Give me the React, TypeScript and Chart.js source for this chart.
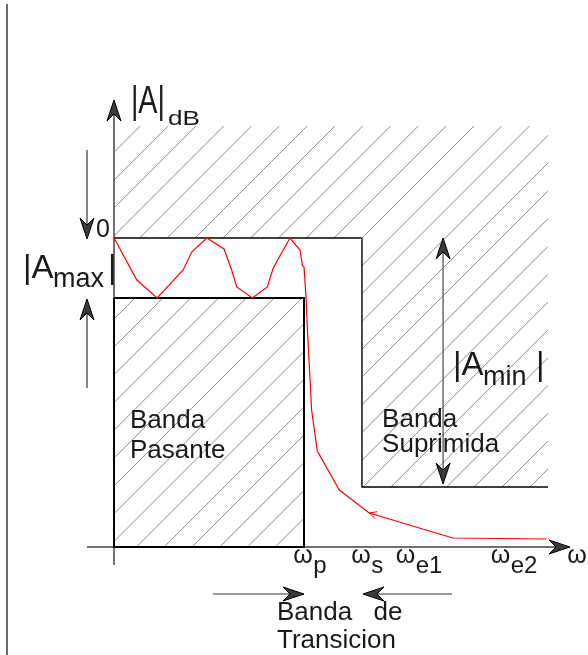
import { useEffect, useRef } from 'react';
import { Chart, registerables } from 'chart.js';
Chart.register(...registerables);

const W = 588;
const H = 655;

// Frequency axis (normalised so that ωp = 1)
const OMEGA_P = 1.0;
const OMEGA_S = 1.305;
const OMEGA_STOP_END = 2.284;
const X_MIN = 0;
const X_MAX = 2.4;
const X_AXIS_START = -0.142;

// Gain axis (dB)
const A_ZERO = 0;
const A_MAX = -3;
const A_MIN = -12.45;
const MASK_TOP = 5.6;
const Y_MIN = -15.45;
const Y_MAX = 6.9;
const Y_AXIS_BOTTOM = -16.35;

// Filter response (red curve)
const responseX = [0, 0.12, 0.227, 0.364, 0.409, 0.488, 0.579, 0.619, 0.646, 0.728, 0.807, 0.838, 0.926, 0.979, 0.992, 1.0, 1.011, 1.018, 1.032, 1.04, 1.07, 1.186, 1.343, 1.783, 2.277];
const responseY = [0, -2.1, -3.0, -1.6, -0.7, 0, -0.55, -1.6, -2.45, -3.0, -2.45, -1.5, 0, -0.6, -1.4, -1.45, -3.0, -4.6, -7.1, -8.6, -10.65, -12.6, -13.75, -15.0, -15.05];

// Frequency labels (ω + subscript) and their positions
const freqSubs = ['p', 's', 'e1', 'e2', ''];
const freqPos = [1.0, 1.305, 1.539, 2.039, 2.442];

// Annotation arrows
const LEFT_ARROW_X = -0.142;
const LEFT_DOWN_TAIL = 4.4;
const LEFT_UP_TAIL = -7.5;
const AMIN_ARROW_X = 1.732;
const TRANS_ARROW_Y = -17.8;
const TRANS_LEFT_TAIL = 0.521;
const TRANS_RIGHT_TAIL = 1.779;

const FONT = '"Liberation Sans", Arial, sans-serif';
const HATCH_STEP = 27.8;
const HATCH_PHASE = 488.7;

type Pt = [number, number];

function hatch(ctx: CanvasRenderingContext2D, pts: Pt[]) {
  ctx.save();
  ctx.beginPath();
  pts.forEach(([px, py], i) => (i ? ctx.lineTo(px, py) : ctx.moveTo(px, py)));
  ctx.closePath();
  ctx.clip();
  const xs = pts.map((p) => p[0]);
  const ys = pts.map((p) => p[1]);
  const minX = Math.min(...xs), maxX = Math.max(...xs);
  const minY = Math.min(...ys), maxY = Math.max(...ys);
  const cMin = minX + minY, cMax = maxX + maxY;
  let c = HATCH_PHASE + Math.ceil((cMin - HATCH_PHASE) / HATCH_STEP) * HATCH_STEP;
  ctx.strokeStyle = '#8a8a8a';
  ctx.lineWidth = 1;
  ctx.beginPath();
  for (; c <= cMax + HATCH_STEP; c += HATCH_STEP) {
    ctx.moveTo(c - maxY, maxY);
    ctx.lineTo(c - minY, minY);
  }
  ctx.stroke();
  ctx.restore();
}

function arrowHead(ctx: CanvasRenderingContext2D, tx: number, ty: number, dx: number, dy: number) {
  const len = Math.hypot(dx, dy);
  const ux = dx / len, uy = dy / len;
  const px = -uy, py = ux;
  const L = 21, Wd = 7, N = 14;
  ctx.save();
  ctx.beginPath();
  ctx.moveTo(tx, ty);
  ctx.lineTo(tx - ux * L + px * Wd, ty - uy * L + py * Wd);
  ctx.lineTo(tx - ux * N, ty - uy * N);
  ctx.lineTo(tx - ux * L - px * Wd, ty - uy * L - py * Wd);
  ctx.closePath();
  ctx.fillStyle = '#3a3a3a';
  ctx.fill();
  ctx.strokeStyle = '#000';
  ctx.lineWidth = 1;
  ctx.stroke();
  ctx.restore();
}

function line(ctx: CanvasRenderingContext2D, x1: number, y1: number, x2: number, y2: number, color: string, w: number) {
  ctx.save();
  ctx.strokeStyle = color;
  ctx.lineWidth = w;
  ctx.beginPath();
  ctx.moveTo(x1, y1);
  ctx.lineTo(x2, y2);
  ctx.stroke();
  ctx.restore();
}

function text(ctx: CanvasRenderingContext2D, s: string, x: number, y: number, size: number, align: CanvasTextAlign = 'left', fitW?: number) {
  ctx.save();
  ctx.font = `${size}px ${FONT}`;
  ctx.fillStyle = '#1a1a1a';
  ctx.textBaseline = 'alphabetic';
  ctx.textAlign = align;
  if (fitW) {
    const m = ctx.measureText(s).width;
    ctx.translate(x, y);
    ctx.scale(fitW / m, 1);
    ctx.fillText(s, 0, 0);
  } else {
    ctx.fillText(s, x, y);
  }
  ctx.restore();
}

const schematic = {
  id: 'schematic',
  beforeDatasetsDraw(chart: any) {
    const { ctx, scales } = chart;
    const X = (v: number) => scales.x.getPixelForValue(v);
    const Y = (v: number) => scales.y.getPixelForValue(v);
    // page frame line
    line(ctx, 7, 4, 7, H, '#6a6a6a', 2);
    // stop mask hatch
    hatch(ctx, [
      [X(0), Y(MASK_TOP)], [X(OMEGA_STOP_END), Y(MASK_TOP)], [X(OMEGA_STOP_END), Y(A_MIN)],
      [X(OMEGA_S), Y(A_MIN)], [X(OMEGA_S), Y(A_ZERO)], [X(0), Y(A_ZERO)],
    ]);
    // pass band hatch
    hatch(ctx, [[X(0), Y(A_MAX)], [X(OMEGA_P), Y(A_MAX)], [X(OMEGA_P), Y(Y_MIN)], [X(0), Y(Y_MIN)]]);
    // axes
    line(ctx, X(X_AXIS_START), Y(Y_MIN), X(X_MAX) - 8, Y(Y_MIN), '#707070', 2);
    line(ctx, X(0), Y(Y_AXIS_BOTTOM), X(0), Y(Y_MAX) + 8, '#505050', 1.6);
  },
  afterDatasetsDraw(chart: any) {
    const { ctx, scales } = chart;
    const X = (v: number) => scales.x.getPixelForValue(v);
    const Y = (v: number) => scales.y.getPixelForValue(v);
    // axis arrows
    arrowHead(ctx, X(0), Y(Y_MAX), 0, -1);
    arrowHead(ctx, X(X_MAX), Y(Y_MIN), 1, 0);
    // left arrows (Amax)
    line(ctx, X(LEFT_ARROW_X), Y(LEFT_DOWN_TAIL), X(LEFT_ARROW_X), Y(A_ZERO) - 8, '#333', 1.2);
    arrowHead(ctx, X(LEFT_ARROW_X), Y(A_ZERO) + 1, 0, 1);
    line(ctx, X(LEFT_ARROW_X), Y(LEFT_UP_TAIL), X(LEFT_ARROW_X), Y(A_MAX) + 8, '#333', 1.2);
    arrowHead(ctx, X(LEFT_ARROW_X), Y(A_MAX) + 1, 0, -1);
    // Amin double arrow
    line(ctx, X(AMIN_ARROW_X), Y(A_ZERO) + 8, X(AMIN_ARROW_X), Y(A_MIN) - 8, '#555', 1.3);
    arrowHead(ctx, X(AMIN_ARROW_X), Y(A_ZERO), 0, -1);
    arrowHead(ctx, X(AMIN_ARROW_X), Y(A_MIN) - 3, 0, 1);
    // transition band arrows
    const ty = Y(TRANS_ARROW_Y);
    line(ctx, X(TRANS_LEFT_TAIL), ty, X(OMEGA_P) - 8, ty, '#333', 1.2);
    arrowHead(ctx, X(OMEGA_P), ty, 1, 0);
    line(ctx, X(TRANS_RIGHT_TAIL), ty, X(OMEGA_S) + 8, ty, '#333', 1.2);
    arrowHead(ctx, X(OMEGA_S) + 1, ty, -1, 0);
    // small marker on the response
    {
      const i = 22;
      const tx = X(responseX[i]), tyy = Y(responseY[i]);
      const nx = X(responseX[i + 1]) - tx, ny = Y(responseY[i + 1]) - tyy;
      const l = Math.hypot(nx, ny);
      const ux = nx / l, uy = ny / l;
      const a = 0.45;
      ctx.save();
      ctx.strokeStyle = '#ff0000';
      ctx.lineWidth = 1;
      ctx.beginPath();
      ctx.moveTo(tx + 8 * (ux * Math.cos(a) - uy * Math.sin(a)), tyy + 8 * (ux * Math.sin(a) + uy * Math.cos(a)));
      ctx.lineTo(tx, tyy);
      ctx.lineTo(tx + 8 * (ux * Math.cos(-a) - uy * Math.sin(-a)), tyy + 8 * (ux * Math.sin(-a) + uy * Math.cos(-a)));
      ctx.stroke();
      ctx.restore();
    }
    // texts
    text(ctx, '|A|', X(0.089), Y(6.25), 39, 'left', 34);
    text(ctx, 'dB', X(0.284), Y(5.65), 21, 'left', 32);
    text(ctx, '0', X(-0.021), Y(0.05), 25, 'right');
    text(ctx, '|A', X(-0.479), Y(-2.0), 33);
    text(ctx, 'max', X(-0.321), Y(-2.45), 27);
    text(ctx, '|', X(-0.032), Y(-2.0), 33);
    text(ctx, 'Banda', X(0.084), Y(-9.5), 26);
    text(ctx, 'Pasante', X(0.084), Y(-11.0), 26);
    text(ctx, 'Banda', X(1.411), Y(-9.45), 26);
    text(ctx, 'Suprimida', X(1.411), Y(-10.7), 26);
    text(ctx, '|A', X(1.784), Y(-6.85), 33);
    text(ctx, 'min', X(1.942), Y(-7.35), 27);
    text(ctx, '|', X(2.221), Y(-6.85), 33);
    // frequency labels
    ctx.save();
    ctx.font = `25px ${FONT}`;
    const ww = ctx.measureText('ω').width;
    ctx.restore();
    freqPos.forEach((fx, k) => {
      const cx = X(fx) - 1;
      text(ctx, 'ω', cx, Y(-16.25), 25, 'center');
      if (freqSubs[k]) text(ctx, freqSubs[k], cx + ww / 2 + 0.5, Y(-16.75), 24);
    });
    ctx.save();
    ctx.font = `26px ${FONT}`;
    (ctx as any).wordSpacing = '14px';
    ctx.fillStyle = '#1a1a1a';
    ctx.fillText('Banda de', X(0.858), Y(-19.1));
    ctx.restore();
    text(ctx, 'Transicion', X(0.858), Y(-20.5), 26);
  },
};

export default function App() {
  const ref = useRef<HTMLCanvasElement>(null);
  useEffect(() => {
    const response = responseX.map((x, i) => ({ x, y: responseY[i] }));
    const passBand = [
      { x: 0, y: A_MAX }, { x: OMEGA_P, y: A_MAX }, { x: OMEGA_P, y: Y_MIN }, { x: 0, y: Y_MIN }, { x: 0, y: A_MAX },
    ];
    const stopMask = [
      { x: 0, y: A_ZERO }, { x: OMEGA_S, y: A_ZERO }, { x: OMEGA_S, y: A_MIN }, { x: OMEGA_STOP_END, y: A_MIN },
    ];
    const chart = new Chart(ref.current!, {
      type: 'line',
      data: {
        datasets: [
          { data: response, borderColor: '#ff0000', borderWidth: 1.2, pointRadius: 0, tension: 0, clip: false } as any,
          { data: passBand, borderColor: '#000000', borderWidth: 2, pointRadius: 0, tension: 0, clip: false } as any,
          { data: stopMask, borderColor: '#000000', borderWidth: 1.4, pointRadius: 0, tension: 0, clip: false } as any,
        ],
      },
      options: {
        animation: false,
        responsive: false,
        devicePixelRatio: 1,
        events: [],
        layout: { padding: { left: 114, right: 18, top: 100, bottom: 108 } },
        plugins: { legend: { display: false }, tooltip: { enabled: false }, title: { display: false } },
        scales: {
          x: { type: 'linear', min: X_MIN, max: X_MAX, display: false },
          y: { type: 'linear', min: Y_MIN, max: Y_MAX, display: false },
        },
      },
      plugins: [schematic],
    });
    return () => chart.destroy();
  }, []);
  return (
    <div style={{ position: 'absolute', left: 0, top: 0, width: W, height: H, background: '#fff' }}>
      <canvas ref={ref} width={W} height={H} style={{ display: 'block' }} />
    </div>
  );
}
